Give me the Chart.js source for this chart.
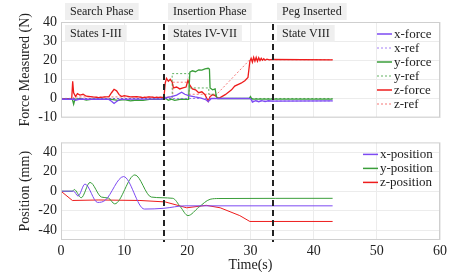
<!DOCTYPE html>
<html>
<head>
<meta charset="utf-8">
<script src="https://cdn.jsdelivr.net/npm/chart.js@4.4.1/dist/chart.umd.min.js"></script>
<style>
  html, body { margin: 0; padding: 0; background: #fff; }
  #wrap { position: relative; width: 471px; height: 272px; }
  #forceBox { position: absolute; left: 0; top: 0; width: 471px; height: 130px; }
  #posBox { position: absolute; left: 0; top: 130px; width: 471px; height: 142px; }
</style>
</head>
<body>
<div id="wrap">
  <div id="forceBox"><canvas id="forceChart"></canvas></div>
  <div id="posBox"><canvas id="posChart"></canvas></div>
</div>
<script>
// phases / annotations
const phaseStarts = [0, 16.3, 33.5];
const phaseNames = ["Search Phase", "Insertion Phase", "Peg Inserted"];
const stateNames = ["States I-III", "States IV-VII", "State VIII"];
const phaseBounds = [16.3, 33.5];

// tick labels
const timeTicks = [0, 10, 20, 30, 40, 50, 60];
const forceTicks = [-10, 0, 10, 20, 30, 40];
const posTicks = [-40, -20, 0, 20, 40];

// force measurements [time s, force N]
const xForce = [[0,-0.4],[2,-0.4],[2.3,-0.9],[3,-0.3],[7.5,-0.4],[8,-1.4],[8.4,-2.6],[8.8,-1.6],[9.3,-0.5],[12,-0.3],[16.3,-0.3],
  [16.6,0.4],[17.5,1.0],[18.3,1.8],[19.1,3.3],[19.6,2.2],[20.2,1.5],[21.2,0.8],[22.2,0.2],[23,-0.8],[23.3,-1.6],[23.8,0],
  [29.8,0],[30.1,-0.5],[30.3,-1.9],[30.8,-1.1],[31.3,-1.7],[31.8,-1.1],[32.3,-1.6],[32.8,-1.2],[33.5,-1.4],[43,-1.3]];
const xRef = [[0,0],[30,0],[30.3,-1.3],[43,-1.3]];
const yForce = [[0,-0.5],[1.8,-0.5],[2,-3],[2.2,-0.5],[3,0],[4,-0.8],[5,-0.3],[8,-0.5],[9,-1],[10,-0.6],[11,-1.2],[12,-0.8],
  [13,-1],[14,-0.5],[16.3,-0.5],[16.6,0],[17,-1],[17.5,-0.4],[18,-1],[19,-0.3],[20.2,-0.5],[20.4,13.8],[20.8,14.5],[21.3,14],
  [21.8,15],[22.3,14.8],[22.8,15.5],[23.3,15.8],[23.5,15.4],[23.6,5.5],[24,4.5],[24.4,5],[24.6,1],[24.8,0],[29.8,0],[30,1],
  [30.2,-0.3],[43,-0.3]];
const yRef = [[0,0],[17.6,0],[17.6,13],[20.3,13],[20.3,5.5],[23.4,5.5],[23.4,2.2],[24.5,2.2],[24.5,0],[43,0]];
const zForce = [[0,-0.2],[1.7,0],[1.85,9],[2,3],[2.3,1],[2.6,2.5],[3,1.8],[3.5,2.2],[4,1.2],[5,0.8],[6,0.5],[7,0.8],[7.6,1],
  [8,3],[8.4,4.8],[8.8,4],[9.2,2],[9.6,1],[10,1.5],[11,0.8],[12,1],[13,0.5],[14,0.8],[15,0.5],[16.3,0.6],[16.5,8],[16.7,10.5],
  [17,9],[17.3,10],[17.6,8.5],[17.8,5.5],[18.3,6],[18.8,5],[19.3,5.5],[19.8,6],[20.1,9.5],[20.4,7],[20.8,5],[21.3,4.5],
  [21.8,3],[22.3,3.5],[22.8,2],[23.3,-1.5],[23.6,1],[24,2],[24.4,1.5],[24.8,0.3],[25.2,0.5],[26,2],[27,4.5],[27.5,6.5],
  [28.5,8],[29.1,9.3],[29.6,11],[29.9,19.5],[30.1,21],[30.3,19],[30.5,21.5],[30.7,19.5],[30.9,21.5],[31.1,19.5],[31.3,21.3],
  [31.5,19.8],[31.7,21],[31.9,20],[32.1,20.8],[32.3,20],[32.6,20.6],[33,20.2],[33.5,20.4],[43,20.2]];
const zRef = [[0,0],[2,0],[2,0.8],[17.7,0.8],[17.7,8.5],[20.3,8.5],[20.3,2.2],[24.4,2.2],[24.4,1.3],[29.9,20.3],[43,20.3]];

// positions [time s, mm]
const xPos = [[0,0],[2,0],[2.7,-5],[3.8,7.3],[5.8,-11.5],[7,-9.3],[9.9,15],[13.2,-18.3],[16.3,-17.5],[19.6,-15],[43,-15]];
const yPos = [[0,0],[1.8,0],[2.1,1.7],[3.2,-6.7],[4.6,9],[6.4,-6],[7.5,-7],[8.5,-13],[11.7,16.7],[14.3,-6],[17.7,-7.3],
  [18.9,-16],[20.1,-25],[21.8,-16.5],[23.6,-8.3],[25,-7.5],[43,-7.3]];
const zPos = [[0,0],[1.8,-9.5],[6,-9],[12.5,-9.5],[16.5,-11],[19.9,-17],[23,-14.5],[25.2,-17],[28.3,-25],[29.9,-31],[43,-31]];

const purple = "#7d4af2", green = "#3a9e3a", red = "#ee1c1c";
const serif = "'Liberation Serif', 'Times New Roman', serif";

const pts = a => a.map(([x, y]) => ({ x, y }));

// plot frame, dashed phase lines, legend
const framePlugin = {
  id: "frame",
  afterDatasetsDraw(chart, args, opts) {
    const { ctx, chartArea: a, scales: { x } } = chart;
    ctx.save();
    ctx.strokeStyle = "#cfcfcf";
    ctx.lineWidth = 1;
    ctx.strokeRect(a.left + 0.5, a.top + 0.5, a.right - a.left - 1, a.bottom - a.top - 1);

    ctx.strokeStyle = "#222";
    ctx.lineWidth = 2;
    ctx.setLineDash([6, 4]);
    phaseBounds.forEach(t => {
      const px = Math.round(x.getPixelForValue(t));
      ctx.beginPath();
      ctx.moveTo(px, opts.top ? a.top + 2 : 0);
      ctx.lineTo(px, opts.top ? chart.height : a.bottom + 2);
      ctx.stroke();
    });
    ctx.setLineDash([]);

    // legend
    ctx.font = "13px " + serif;
    ctx.textBaseline = "middle";
    ctx.textAlign = "left";
    chart.data.datasets.forEach((d, i) => {
      const y = a.top + 12 + i * 14;
      const lx = a.right - opts.legendOffset;
      ctx.strokeStyle = d.borderColor;
      ctx.lineWidth = d.borderDash ? 1 : 1.5;
      ctx.setLineDash(d.borderDash || []);
      ctx.beginPath();
      ctx.moveTo(lx, y);
      ctx.lineTo(lx + 15, y);
      ctx.stroke();
      ctx.setLineDash([]);
      ctx.fillStyle = "#222";
      ctx.fillText(d.label, lx + 17, y + 0.5);
    });
    ctx.restore();
  }
};

// phase and state labels in grey boxes
const labelPlugin = {
  id: "phaseLabels",
  afterDraw(chart) {
    const { ctx, scales: { x } } = chart;
    ctx.save();
    ctx.font = "12px " + serif;
    ctx.textBaseline = "middle";
    ctx.textAlign = "left";
    phaseStarts.forEach((t, i) => {
      const bx = Math.round(x.getPixelForValue(t)) + 4;
      [[phaseNames[i], 3], [stateNames[i], 25]].forEach(([txt, by]) => {
        const w = ctx.measureText(txt).width + 10;
        ctx.fillStyle = "#efefef";
        ctx.fillRect(bx, by, w, 17);
        ctx.fillStyle = "#222";
        ctx.fillText(txt, bx + 5, by + 9);
      });
    });
    ctx.restore();
  }
};

const tickFont = { family: serif, size: 14 };
const titleFont = { family: serif, size: 14, lineHeight: 1 };

function line(label, data, color, opts) {
  return Object.assign({
    label, data: pts(data), borderColor: color, borderWidth: 1.3,
    pointRadius: 0, tension: 0, fill: false
  }, opts || {});
}

new Chart(document.getElementById("forceChart"), {
  type: "line",
  data: {
    datasets: [
      line("x-force", xForce, purple),
      line("x-ref", xRef, "rgba(125,74,242,0.7)", { borderWidth: 1, borderDash: [2, 2] }),
      line("y-force", yForce, green),
      line("y-ref", yRef, "rgba(58,158,58,0.8)", { borderWidth: 1, borderDash: [2, 2] }),
      line("z-force", zForce, red),
      line("z-ref", zRef, "rgba(238,28,28,0.6)", { borderWidth: 1, borderDash: [2, 2] })
    ]
  },
  options: {
    responsive: true, maintainAspectRatio: false, animation: false,
    layout: { padding: { left: 0, right: 31, top: 22, bottom: 10 } },
    plugins: { legend: { display: false }, tooltip: { enabled: false }, frame: { top: true, legendOffset: 63 } },
    scales: {
      x: {
        type: "linear", min: 0, max: 60,
        afterBuildTicks: s => { s.ticks = timeTicks.map(v => ({ value: v })); },
        afterFit: s => { s.height = 0; },
        ticks: { display: false, autoSkip: false },
        grid: { color: "#ececec", drawTicks: false },
        border: { display: false }
      },
      y: {
        min: -10, max: 40,
        afterBuildTicks: s => { s.ticks = forceTicks.map(v => ({ value: v })); },
        afterFit: s => { s.width = 61; },
        ticks: { font: tickFont, color: "#222", padding: 4, autoSkip: false },
        grid: { color: "#ececec", drawTicks: false },
        border: { display: false },
        title: { display: true, text: "Force Measured (N)", font: titleFont, color: "#222", padding: { top: 18, bottom: 0 } }
      }
    }
  },
  plugins: [framePlugin, labelPlugin]
});

new Chart(document.getElementById("posChart"), {
  type: "line",
  data: {
    datasets: [
      line("x-position", xPos, purple, { borderWidth: 1, cubicInterpolationMode: "monotone" }),
      line("y-position", yPos, green, { borderWidth: 1, cubicInterpolationMode: "monotone" }),
      line("z-position", zPos, red, { borderWidth: 1 })
    ]
  },
  options: {
    responsive: true, maintainAspectRatio: false, animation: false,
    layout: { padding: { left: 0, right: 31, top: 11, bottom: 0 } },
    plugins: { legend: { display: false }, tooltip: { enabled: false }, frame: { top: false, legendOffset: 77 } },
    scales: {
      x: {
        type: "linear", min: 0, max: 60,
        afterBuildTicks: s => { s.ticks = timeTicks.map(v => ({ value: v })); },
        afterFit: s => { s.height = 32; },
        ticks: { font: tickFont, color: "#222", padding: 3, maxRotation: 0, autoSkip: false },
        grid: { color: "#ececec", drawTicks: false },
        border: { display: false },
        title: { display: true, text: "Time(s)", font: titleFont, color: "#222", padding: { top: 0, bottom: 0 } }
      },
      y: {
        min: -50, max: 50,
        afterBuildTicks: s => { s.ticks = posTicks.map(v => ({ value: v })); },
        afterFit: s => { s.width = 61; },
        ticks: { font: tickFont, color: "#222", padding: 4, autoSkip: false },
        grid: { color: "#ececec", drawTicks: false },
        border: { display: false },
        title: { display: true, text: "Position (mm)", font: titleFont, color: "#222", padding: { top: 18, bottom: 0 } }
      }
    }
  },
  plugins: [framePlugin]
});
</script>
</body>
</html>
